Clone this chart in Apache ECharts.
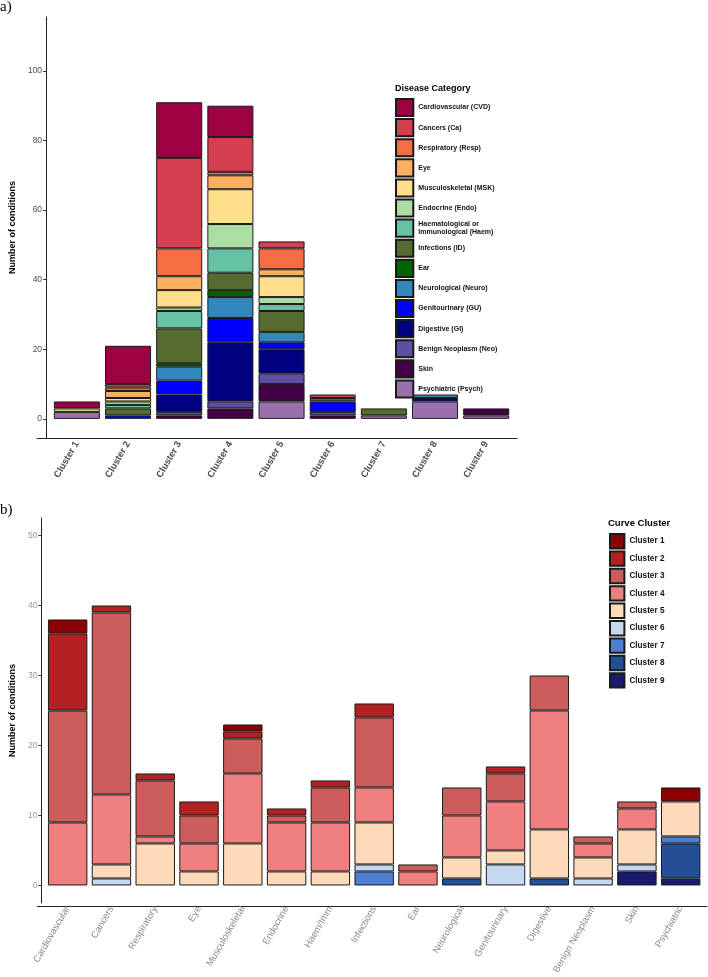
<!DOCTYPE html>
<html>
<head>
<meta charset="utf-8">
<script src="https://cdn.jsdelivr.net/npm/echarts@6.0.0/dist/echarts.min.js"></script>
<style>
  html, body { margin: 0; padding: 0; background: #fff; }
  #main { width: 708px; height: 977px; }
</style>
</head>
<body>
<div id="main"></div>
<script>
// 曲线聚类 (a 图 x 轴 / b 图图例)
var clusters = ['Cluster 1', 'Cluster 2', 'Cluster 3', 'Cluster 4', 'Cluster 5', 'Cluster 6', 'Cluster 7', 'Cluster 8', 'Cluster 9'];

// 疾病类别：a 图图例名称 和 b 图 x 轴名称
var categoryNames = ['Cardiovascular (CVD)', 'Cancers (Ca)', 'Respiratory (Resp)', 'Eye', 'Musculoskeletal (MSK)',
    'Endocrine (Endo)', 'Haematological or Immunological (Haem)', 'Infections (ID)', 'Ear', 'Neurological (Neuro)',
    'Genitourinary (GU)', 'Digestive (GI)', 'Benign Neoplasm (Neo)', 'Skin', 'Psychiatric (Psych)'];
var categoryShort = ['Cardiovascular', 'Cancers', 'Respiratory', 'Eye', 'Musculoskeletal', 'Endocrine', 'Haem/Imm',
    'Infections', 'Ear', 'Neurological', 'Genitourinary', 'Digestive', 'Benign Neoplasm', 'Skin', 'Psychiatric'];

// 每个类别在 Cluster 1..9 中的条件数
var cvd   = [2, 11, 16, 9, 0, 0, 0, 0, 0];
var ca    = [0, 1, 26, 10, 2, 1, 0, 0, 0];
var resp  = [0, 1, 8, 1, 6, 0, 0, 0, 0];
var eye   = [0, 2, 4, 4, 2, 0, 0, 0, 0];
var msk   = [1, 1, 5, 10, 6, 0, 0, 0, 0];
var endo  = [0, 1, 1, 7, 2, 0, 0, 0, 0];
var haem  = [0, 1, 5, 7, 2, 0, 0, 0, 0];
var id    = [0, 2, 10, 5, 6, 1, 2, 0, 0];
var ear   = [0, 0, 1, 2, 0, 0, 0, 0, 0];
var neuro = [0, 0, 4, 6, 3, 0, 0, 1, 0];
var gu    = [0, 1, 4, 7, 2, 3, 0, 0, 0];
var gi    = [0, 0, 5, 17, 7, 0, 0, 1, 0];
var neo   = [0, 0, 1, 2, 3, 1, 0, 0, 0];
var skin  = [0, 0, 1, 3, 5, 1, 0, 0, 2];
var psych = [2, 0, 0, 0, 5, 0, 1, 5, 1];

var counts = [cvd, ca, resp, eye, msk, endo, haem, id, ear, neuro, gu, gi, neo, skin, psych];

// 刻度
var yTicksA = [0, 20, 40, 60, 80, 100];
var yTicksB = [0, 10, 20, 30, 40, 50];

// 颜色
var diseaseColors = ['#9e0142', '#d53e4f', '#f46d43', '#fdae61', '#fee08b', '#abdda4', '#66c2a5', '#556b2f',
    '#006400', '#3288bd', '#0000ff', '#000080', '#5e4fa2', '#440044', '#9970ab'];
var clusterColors = ['#8b0000', '#b22222', '#cd5c5c', '#f08080', '#ffdab9', '#c6d7f0', '#4f7fd4', '#234f96', '#191970'];

var font = 'Liberation Sans';
var edge = { borderColor: '#1a1a1a', borderWidth: 1 };

// 面板范围 (像素)，两边各留 0.6 个类别宽度
var panelA = { left: 37, right: 517, top: 17, bottom: 438 };
var panelB = { left: 37.25, right: 707, top: 518, bottom: 906 };
var W = 708, H = 977;

function pad(p, n) {
    return (p.right - p.left) / (n + 0.2) * 0.1;
}
var padA = pad(panelA, clusters.length);
var padB = pad(panelB, categoryShort.length);

// 0 不画 (不然会多出一条边线)
function noZero(v) {
    return v === 0 ? '-' : v;
}

var series = [];

// a 图：按类别堆叠，Psych 在最下面
for (var i = counts.length - 1; i >= 0; i--) {
    series.push({
        name: categoryNames[i],
        type: 'bar',
        stack: 'a',
        xAxisIndex: 0,
        yAxisIndex: 0,
        barWidth: '90%',
        itemStyle: Object.assign({ color: diseaseColors[i] }, edge),
        data: counts[i].map(noZero)
    });
}

// b 图：按聚类堆叠，Cluster 9 在最下面
for (var k = clusters.length - 1; k >= 0; k--) {
    series.push({
        name: clusters[k],
        type: 'bar',
        stack: 'b',
        xAxisIndex: 1,
        yAxisIndex: 1,
        barWidth: '90%',
        itemStyle: Object.assign({ color: clusterColors[k] }, edge),
        data: counts.map(function (row) { return noZero(row[k]); })
    });
}

function xAxisOf(grid, names, labelStyle) {
    return {
        type: 'category',
        gridIndex: grid,
        data: names,
        axisLine: { show: false },
        axisTick: { alignWithLabel: true, interval: 0, length: 3, lineStyle: { color: '#333' } },
        axisLabel: Object.assign({ interval: 0, rotate: 60, margin: 4, fontFamily: font }, labelStyle)
    };
}

function yAxisOf(grid, min, max, ticks, labelColor, off) {
    return {
        type: 'value',
        gridIndex: grid,
        min: min,
        max: max,
        offset: off,
        name: 'Number of conditions',
        nameLocation: 'middle',
        nameGap: 21,
        nameTextStyle: { fontFamily: font, fontSize: 9, fontWeight: 'bold', color: '#000' },
        splitLine: { show: false },
        axisLine: { show: true, onZero: false, lineStyle: { color: '#222', width: 1 } },
        axisTick: { show: true, customValues: ticks, length: 3, lineStyle: { color: '#333' } },
        axisLabel: { customValues: ticks, margin: 4, fontFamily: font, fontSize: 8.5, color: labelColor }
    };
}

// 只画横轴线用的坐标轴 (覆盖整个面板宽度)
function baseLineX(grid) {
    return {
        type: 'value', gridIndex: grid, min: 0, max: 1,
        axisLine: { show: true, onZero: false, lineStyle: { color: '#222', width: 1 } },
        axisTick: { show: false }, axisLabel: { show: false }, splitLine: { show: false }
    };
}
function hiddenY(grid) {
    return { type: 'value', gridIndex: grid, show: false, min: 0, max: 1 };
}

var myChart = echarts.init(document.getElementById('main'));

var option = {
    animation: false,
    backgroundColor: '#fff',
    title: [
        { text: 'a)', left: 0, top: 0, padding: 0,
          textStyle: { fontFamily: 'Liberation Serif', fontSize: 15, fontWeight: 'normal', color: '#000' } },
        { text: 'b)', left: 0, top: 503, padding: 0,
          textStyle: { fontFamily: 'Liberation Serif', fontSize: 15, fontWeight: 'normal', color: '#000' } },
        { text: 'Disease Category', left: 395, top: 84, padding: 0,
          textStyle: { fontFamily: font, fontSize: 9, fontWeight: 'bold', color: '#000' } },
        { text: 'Curve Cluster', left: 608, top: 518, padding: 0,
          textStyle: { fontFamily: font, fontSize: 9.5, fontWeight: 'bold', color: '#000' } }
    ],
    legend: [
        {
            data: categoryNames,
            orient: 'vertical',
            left: 395,
            top: 98,
            padding: 0,
            itemWidth: 17.3,
            itemHeight: 17.1,
            itemGap: 1,
            selectedMode: false,
            icon: 'rect',
            formatter: function (name) { return name.replace(' or ', ' or\n'); },
            textStyle: { fontFamily: font, fontSize: 7, fontWeight: 'bold', color: '#111', lineHeight: 8 }
        },
        {
            data: clusters,
            orient: 'vertical',
            left: 609,
            top: 533,
            padding: 0,
            itemWidth: 14.4,
            itemHeight: 14.4,
            itemGap: 1,
            selectedMode: false,
            icon: 'rect',
            textStyle: { fontFamily: font, fontSize: 8.2, fontWeight: 'bold', color: '#111' }
        }
    ],
    grid: [
        { left: panelA.left + padA, right: W - panelA.right + padA, top: panelA.top, bottom: H - panelA.bottom },
        { left: panelB.left + padB, right: W - panelB.right + padB, top: panelB.top, bottom: H - panelB.bottom },
        { left: panelA.left, right: W - panelA.right, top: panelA.top, bottom: H - panelA.bottom },
        { left: panelB.left, right: W - panelB.right, top: panelB.top, bottom: H - panelB.bottom }
    ],
    xAxis: [
        xAxisOf(0, clusters, { fontSize: 9.5, fontWeight: 'bold', color: '#4d4d4d' }),
        xAxisOf(1, categoryShort, { fontSize: 9.5, color: '#8a8a8a' }),
        baseLineX(2),
        baseLineX(3)
    ],
    yAxis: [
        yAxisOf(0, -5.5, 115.5, yTicksA, '#4d4d4d', padA),
        yAxisOf(1, -2.5, 52.5, yTicksB, '#9a9a9a', padB),
        hiddenY(2),
        hiddenY(3)
    ],
    series: series
};

myChart.setOption(option);
</script>
</body>
</html>
